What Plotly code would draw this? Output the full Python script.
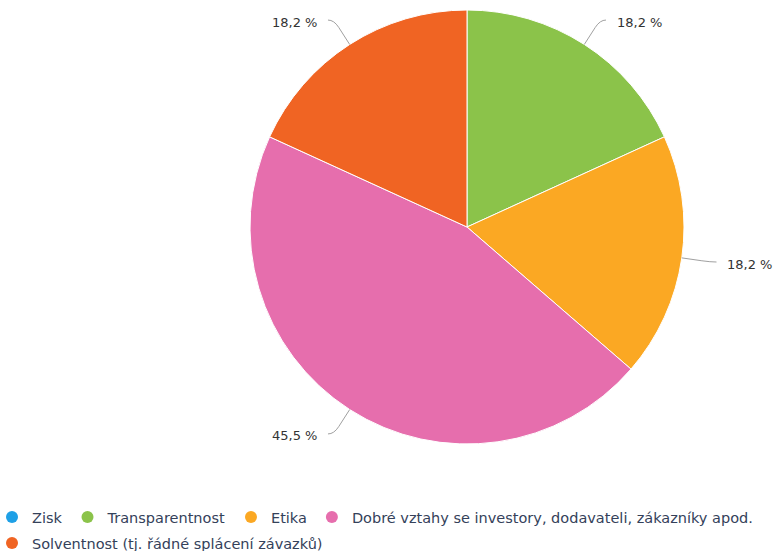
import math
import plotly.graph_objects as go

# Survey shares (percent of answers)
categories = [
    "Zisk",
    "Transparentnost",
    "Etika",
    "Dobré vztahy se investory, dodavateli, zákazníky apod.",
    "Solventnost (tj. řádné splácení závazků)",
]
shares = [0.0, 18.2, 18.2, 45.5, 18.2]
colors = ["#1ea0e6", "#8bc34a", "#fba823", "#e66ead", "#f06423"]
legend_rows = ["legend", "legend", "legend", "legend", "legend2"]

W, H = 776, 551
MB = 80                             # bottom margin reserved for the legend
PH = H - MB                         # plot-area height
CX, CY, R = 467, 227, 217          # pie centre and radius in pixels
ELBOW = 29                          # connector elbow distance beyond the rim
TAIL = 6                            # horizontal run of the connector
GAP = 15                            # distance between elbow and label text

label_font = dict(family="DejaVu Sans", size=13, color="#333333")
legend_font = dict(family="DejaVu Sans", size=14.5, color="#34415a")


def px_to_paper(x, y):
    return x / W, 1 - y / PH


fig = go.Figure()

x0, y1 = px_to_paper(CX - R, CY - R)
x1, y0 = px_to_paper(CX + R, CY + R)
fig.add_trace(go.Pie(
    labels=categories,
    values=shares,
    marker=dict(colors=colors, line=dict(color="#ffffff", width=1)),
    sort=False,
    direction="clockwise",
    rotation=0,
    textinfo="none",
    hoverinfo="label+percent",
    showlegend=False,
    domain=dict(x=[x0, x1], y=[y0, y1]),
))

# Legend entries with round symbols, split over two rows
for name, col, lg in zip(categories, colors, legend_rows):
    fig.add_trace(go.Scatter(
        x=[None], y=[None], mode="markers", name=name, legend=lg,
        marker=dict(symbol="circle", size=12, color=col),
        hoverinfo="skip",
    ))

# Outside labels with bent connector lines, placed from each slice's mid angle
total = sum(shares)
shapes, annotations = [], []
cum = 0.0
for v in shares:
    if v <= 0:
        cum += v
        continue
    mid = (cum + v / 2) / total * 2 * math.pi
    cum += v
    ux, uy = math.sin(mid), -math.cos(mid)
    side = 1 if ux >= 0 else -1
    sx, sy = CX + R * ux, CY + R * uy
    ex, ey = CX + (R + ELBOW) * ux, CY + (R + ELBOW) * uy
    kx, ky = sx + (ex - sx) * 0.7, sy + (ey - sy) * 0.7
    tx, ty = ex + side * TAIL, ey
    pts = [px_to_paper(*p) for p in [(sx, sy), (kx, ky), (ex, ey), (tx, ty)]]
    path = "M {:.5f},{:.5f} L {:.5f},{:.5f} Q {:.5f},{:.5f} {:.5f},{:.5f}".format(
        *pts[0], *pts[1], *pts[2], *pts[3])
    shapes.append(dict(type="path", xref="paper", yref="paper", path=path,
                       line=dict(color="#a0a0a0", width=1)))
    lx, ly = px_to_paper(ex + side * GAP, ey + 2)
    annotations.append(dict(
        x=lx, y=ly, xref="paper", yref="paper", showarrow=False,
        text=f"{v:.1f}".replace(".", ",") + " %",
        xanchor="left" if side > 0 else "right", yanchor="middle",
        font=label_font,
    ))

legend_style = dict(
    orientation="h", xanchor="left", yanchor="top",
    font=legend_font, itemwidth=30, bgcolor="rgba(0,0,0,0)",
)

fig.update_layout(
    width=W, height=H,
    margin=dict(l=0, r=0, t=0, b=MB, autoexpand=False),
    paper_bgcolor="#ffffff",
    plot_bgcolor="#ffffff",
    xaxis=dict(visible=False),
    yaxis=dict(visible=False),
    shapes=shapes,
    annotations=annotations,
    showlegend=True,
    legend=dict(x=-8 / W, y=-(501 - PH) / PH, **legend_style),
    legend2=dict(x=-8 / W, y=-(527 - PH) / PH, **legend_style),
)

fig.write_html("out.html")
